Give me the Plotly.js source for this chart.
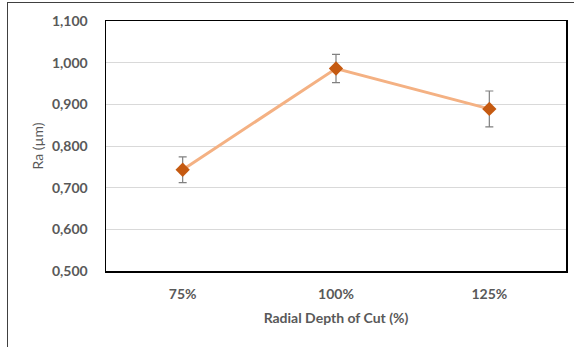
<!DOCTYPE html>
<html>
<head>
<meta charset="utf-8">
<script src="https://cdn.plot.ly/plotly-3.0.1.min.js"></script>
<style>
  html, body { margin: 0; padding: 0; background: #fff; overflow: hidden; }
  #frame { position: absolute; left: 7px; top: 2px; width: 700px; height: 500px; border: 1.5px solid #404040; box-sizing: border-box; }
  #chart { position: absolute; left: 0; top: 0; width: 574px; height: 347px; }
</style>
</head>
<body>
<div id="frame"></div>
<div id="chart"></div>
<script>
const categories = ["75%", "100%", "125%"];
const raValues = [0.743, 0.986, 0.889];
const raErrors = [0.031, 0.034, 0.043];
const yTicks = [0.5, 0.6, 0.7, 0.8, 0.9, 1.0, 1.1];

const trace = {
  x: categories,
  y: raValues,
  type: "scatter",
  mode: "lines+markers",
  line: { color: "#F4B183", width: 3 },
  marker: { symbol: "diamond", size: 11, color: "#C55A11" },
  error_y: { type: "data", array: raErrors, visible: true, color: "#808080", thickness: 1.2, width: 4 },
  hoverinfo: "none"
};

const tickFont = { family: "Lato, 'Open Sans', sans-serif", size: 14, color: "#595959", weight: "bold" };

const layout = {
  width: 574,
  height: 347,
  margin: { l: 106, r: 8, t: 21, b: 76 },
  paper_bgcolor: "rgba(0,0,0,0)",
  plot_bgcolor: "#ffffff",
  separators: ",.",
  showlegend: false,
  xaxis: {
    type: "category",
    range: [-0.5, 2.5],
    showgrid: false,
    zeroline: false,
    showline: true,
    mirror: true,
    linecolor: "#000000",
    linewidth: 1.5,
    ticks: "",
    tickfont: tickFont,
    ticklabelstandoff: 10,
    title: { text: "Radial Depth of Cut (%)", font: { family: "Lato, 'Open Sans', sans-serif", size: 14, color: "#595959", weight: "bold" }, standoff: 12 }
  },
  yaxis: {
    range: [0.5, 1.1],
    tickvals: yTicks,
    tickformat: ".3f",
    showgrid: true,
    gridcolor: "#D9D9D9",
    gridwidth: 1,
    zeroline: false,
    showline: true,
    mirror: true,
    linecolor: "#000000",
    linewidth: 1.5,
    ticks: "",
    tickfont: tickFont,
    ticklabelstandoff: 14,
    title: { text: "Ra (µm)", font: { family: "Lato, 'Open Sans', sans-serif", size: 14, color: "#595959" }, standoff: 5 }
  }
};

Plotly.newPlot("chart", [trace], layout, { displayModeBar: false, staticPlot: true });
</script>
</body>
</html>
